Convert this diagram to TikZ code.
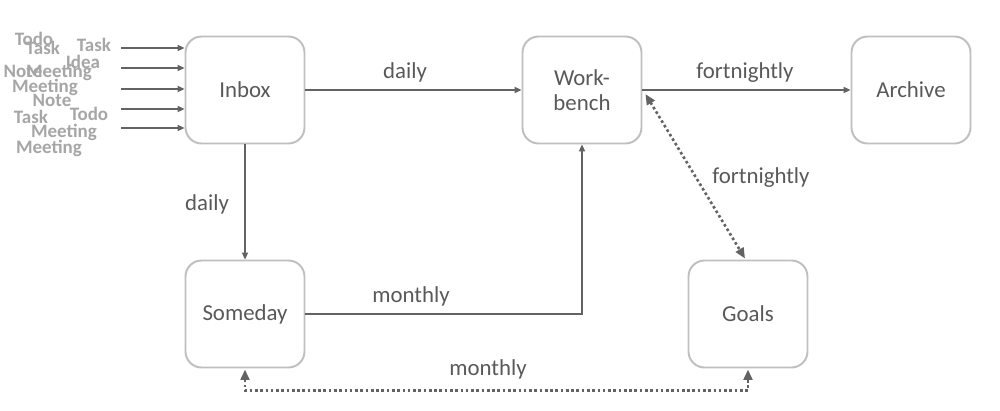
\documentclass[tikz,border=0pt]{standalone}
\usepackage{fontspec}
\setmainfont{Carlito}
\usetikzlibrary{arrows.meta,calc}
\definecolor{boxc}{HTML}{BFBFBF}
\definecolor{txtc}{HTML}{595959}
\definecolor{arrc}{HTML}{636363}
\definecolor{cloudc}{HTML}{A6A6A6}
\tikzset{
  stage/.style={draw=boxc, line width=1.1pt, rounded corners=0.32cm, minimum width=2.38cm, minimum height=2.14cm, text=txtc, font=\fontsize{13}{14.5}\selectfont, align=center, fill=white},
  flow/.style={draw=arrc, line width=0.9pt, -{Triangle[length=4pt,width=3.5pt]}},
  dflow/.style={draw=arrc, line width=1.5pt, dash pattern=on 1.5pt off 1.5pt, {Triangle[length=6pt,width=5pt]}-{Triangle[length=6pt,width=5pt]}},
  lbl/.style={text=txtc, font=\fontsize{13}{15}\selectfont},
  cloud/.style={text=cloudc, font=\fontsize{10.8}{12}\selectfont\bfseries, inner sep=0pt},
}
\begin{document}
\begin{tikzpicture}[x=0.02cm, y=-0.02cm]
\useasboundingbox (0,0) rectangle (1000,411);
% stages
\node[stage] (inbox) at (245,90) {Inbox};
\node[stage] (wb) at (582,90) {Work-\\bench};
\node[stage] (archive) at (911,90) {Archive};
\node[stage] (someday) at (245,314) {Someday};
\node[stage] (goals) at (748,314) {Goals};
% input word cloud
\node[cloud] (w1) at (34,39) {Todo};
\node[cloud] (w2) at (43,48) {Task};
\node[cloud] (w3) at (94,45) {Task};
\node[cloud] (w4) at (83,62) {Idea};
\node[cloud] (w5) at (23,71) {Note};
\node[cloud] (w6) at (59,72) {Meeting};
\node[cloud] (w7) at (45,87) {Meeting};
\node[cloud] (w8) at (52,100) {Note};
\node[cloud] (w9) at (31,117) {Task};
\node[cloud] (w10) at (89,114) {Todo};
\node[cloud] (w11) at (64,132) {Meeting};
\node[cloud] (w12) at (49,148) {Meeting};
% input arrows
\foreach \yy [count=\i] in {48,68,89,109,128} {
  \coordinate (in\i) at (121,\yy);
  \draw[flow] (in\i) -- (inbox.west |- in\i);
}
% flows
\draw[flow] (inbox.east) -- (wb.west);
\draw[flow] (wb.east) -- (archive.west);
\draw[flow] (inbox.south) -- (someday.north);
\draw[flow] (someday.east) -| (wb.south);
\draw[dflow] ($(wb.east)+(3,4)$) -- ($(goals.north)+(-3,-1)$);
\draw[dflow] ($(someday.south)+(0,1)$) -- ++(0,21) -| ($(goals.south)+(0,1)$);
% labels
\node[lbl] (l1) at (405,72) {daily};
\node[lbl] (l2) at (745,73) {fortnightly};
\node[lbl] (l3) at (207,204) {daily};
\node[lbl] (l4) at (411,296) {monthly};
\node[lbl] (l5) at (761,178) {fortnightly};
\node[lbl] (l6) at (488,369) {monthly};
\end{tikzpicture}
\end{document}
